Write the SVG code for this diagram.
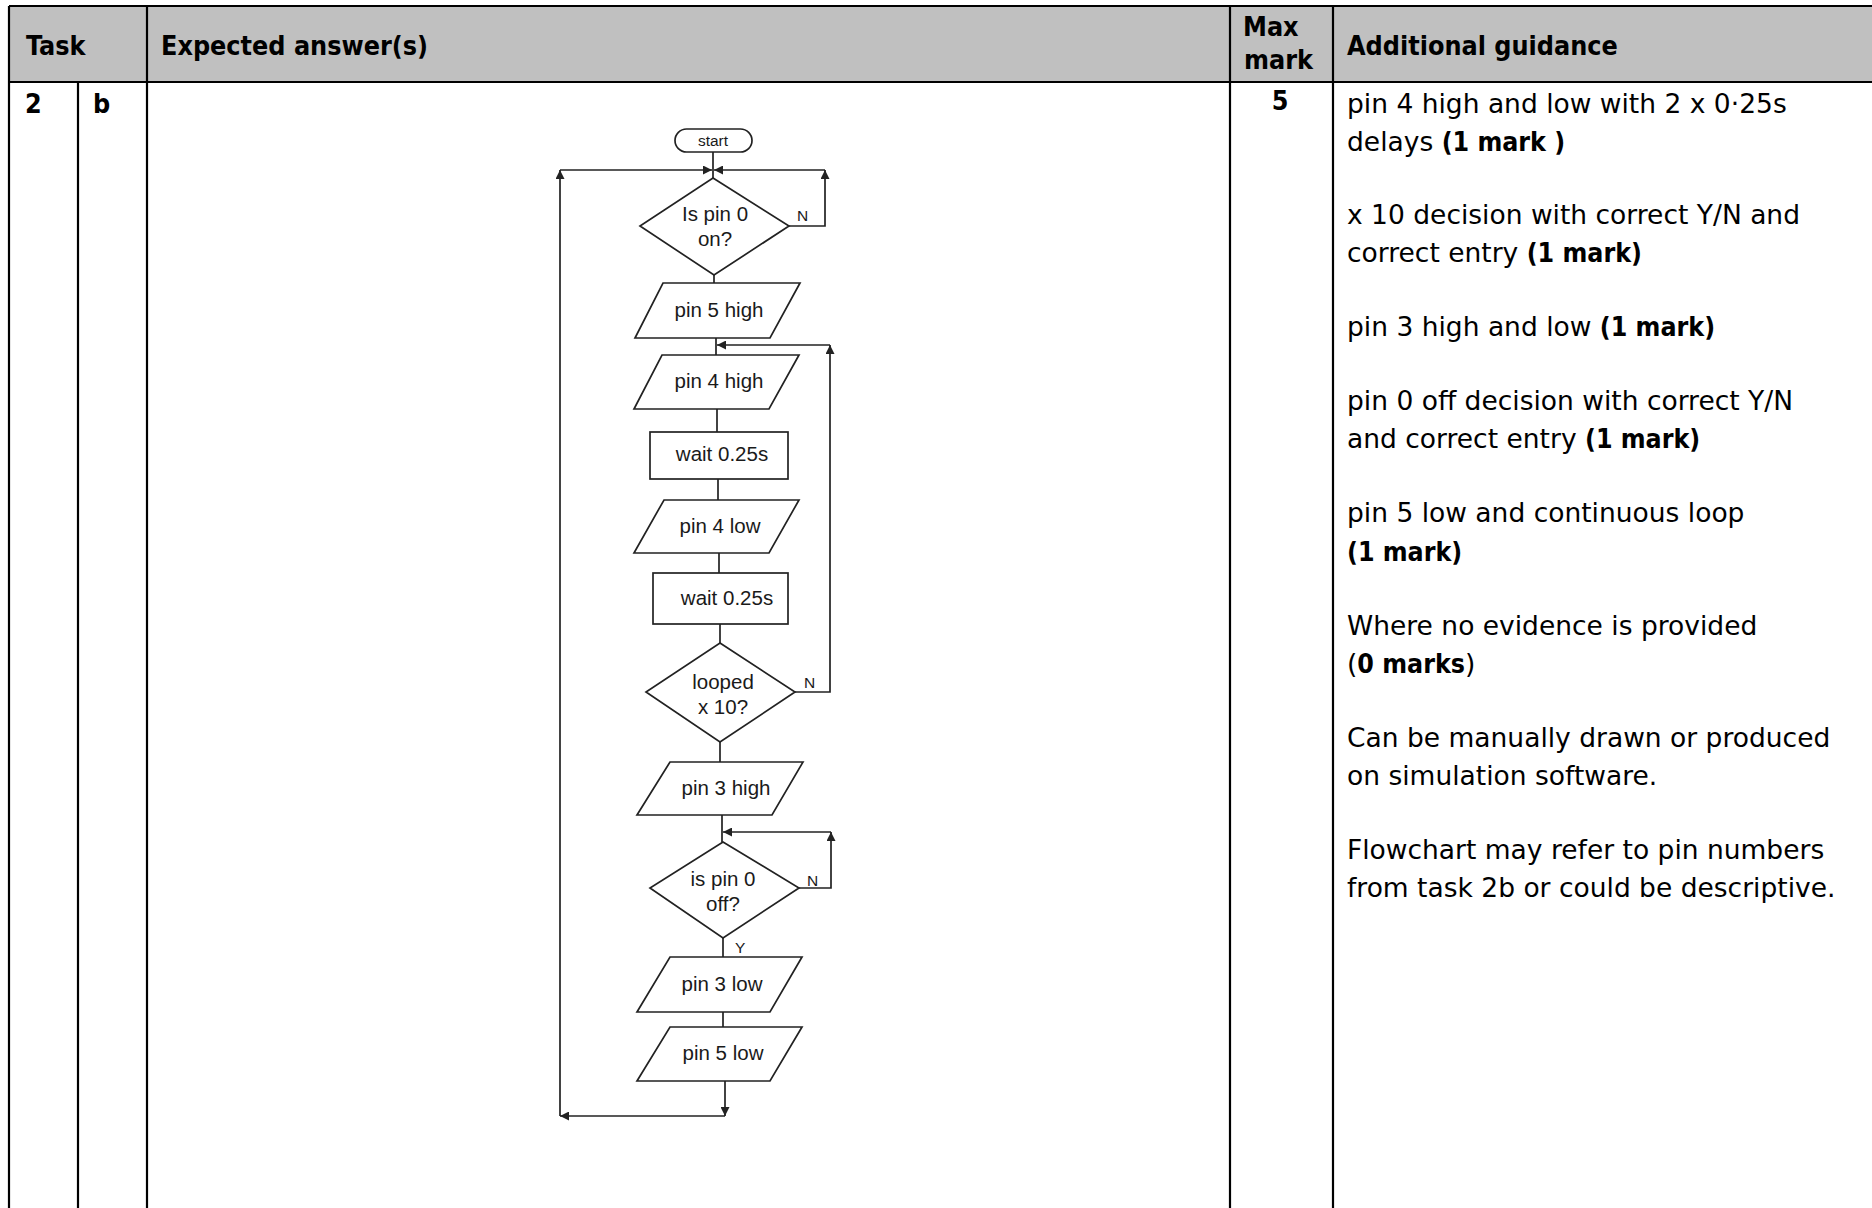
<svg xmlns="http://www.w3.org/2000/svg" width="1872" height="1208" viewBox="0 0 1872 1208">
  <defs>
    <marker id="arrow" viewBox="0 0 10 10" refX="10" refY="5" markerWidth="11" markerHeight="9" markerUnits="userSpaceOnUse" orient="auto">
      <path d="M0,0 L10,5 L0,10 z" fill="#222"/>
    </marker>
  </defs>
  <style>
    .grid { stroke: #000; stroke-width: 2.2; fill: none; }
    .head { fill: #c0c0c0; }
    .th { font-family: "DejaVu Sans Condensed", "DejaVu Sans", sans-serif; font-weight: bold; font-size: 26.7px; fill: #000; }
    .td { font-family: "DejaVu Sans", sans-serif; font-size: 26.5px; fill: #000; }
    .b { font-family: "DejaVu Sans Condensed", "DejaVu Sans", sans-serif; font-weight: bold; }
    .shape { fill: #fff; stroke: #222; stroke-width: 1.7; }
    .wire { fill: none; stroke: #222; stroke-width: 1.7; }
    .lbl { font-family: "Liberation Sans", Arial, sans-serif; font-size: 20.5px; fill: #1a1a1a; text-anchor: middle; }
    .small { font-family: "Liberation Sans", Arial, sans-serif; font-size: 15.5px; fill: #1a1a1a; }
  </style>

  <!-- table frame -->
  <g id="table">
    <rect class="head" x="9" y="6" width="1863" height="76"/>
    <line class="grid" x1="9" y1="6" x2="1872" y2="6"/>
    <line class="grid" x1="9" y1="82" x2="1872" y2="82"/>
    <line class="grid" x1="9" y1="6" x2="9" y2="1208"/>
    <line class="grid" x1="78" y1="82" x2="78" y2="1208"/>
    <line class="grid" x1="147" y1="6" x2="147" y2="1208"/>
    <line class="grid" x1="1230" y1="6" x2="1230" y2="1208"/>
    <line class="grid" x1="1333" y1="6" x2="1333" y2="1208"/>
  </g>

  <g id="header">
    <text class="th" x="26" y="55">Task</text>
    <text class="th" x="161" y="55">Expected answer(s)</text>
    <text class="th" x="1243" y="36">Max</text>
    <text class="th" x="1244" y="69">mark</text>
    <text class="th" x="1347" y="55">Additional guidance</text>
  </g>

  <g id="row">
    <text class="th" x="25" y="113">2</text>
    <text class="th" x="93" y="113">b</text>
    <text class="th" x="1280" y="110" text-anchor="middle">5</text>
  </g>

  <g id="guidance" class="td">
    <text x="1347" y="113">pin 4 high and low with 2 x 0·25s</text>
    <text x="1347" y="151">delays <tspan class="b">(1 mark )</tspan></text>
    <text x="1347" y="224">x 10 decision with correct Y/N and</text>
    <text x="1347" y="262">correct entry <tspan class="b">(1 mark)</tspan></text>
    <text x="1347" y="336">pin 3 high and low <tspan class="b">(1 mark)</tspan></text>
    <text x="1347" y="410">pin 0 off decision with correct Y/N</text>
    <text x="1347" y="448">and correct entry <tspan class="b">(1 mark)</tspan></text>
    <text x="1347" y="522">pin 5 low and continuous loop</text>
    <text x="1347" y="561"><tspan class="b">(1 mark)</tspan></text>
    <text x="1347" y="635">Where no evidence is provided</text>
    <text x="1347" y="673">(<tspan class="b">0 marks</tspan>)</text>
    <text x="1347" y="747">Can be manually drawn or produced</text>
    <text x="1347" y="785">on simulation software.</text>
    <text x="1347" y="859">Flowchart may refer to pin numbers</text>
    <text x="1347" y="897">from task 2b or could be descriptive.</text>
  </g>

  <!-- flowchart connectors -->
  <g id="connectors">
    <path class="wire" d="M713,152 V178"/>
    <path class="wire" d="M714,275 V283"/>
    <path class="wire" d="M716,338 V355"/>
    <path class="wire" d="M717,409 V432"/>
    <path class="wire" d="M718,479 V500"/>
    <path class="wire" d="M719,553 V573"/>
    <path class="wire" d="M720,624 V643"/>
    <path class="wire" d="M720,742 V762"/>
    <path class="wire" d="M722,815 V842"/>
    <path class="wire" d="M723,938 V957"/>
    <path class="wire" d="M723,1012 V1027"/>
    <!-- main loop back to the first test -->
    <path class="wire" d="M725,1081 V1116" marker-end="url(#arrow)"/>
    <path class="wire" d="M725,1116 H560" marker-end="url(#arrow)"/>
    <path class="wire" d="M560,1116 V170" marker-end="url(#arrow)"/>
    <path class="wire" d="M560,170 H712" marker-end="url(#arrow)"/>
    <!-- wait for pin 0 on -->
    <path class="wire" d="M789,226 H825 V170" marker-end="url(#arrow)"/>
    <path class="wire" d="M825,170 H714" marker-end="url(#arrow)"/>
    <!-- repeat ten times -->
    <path class="wire" d="M795,692 H830 V345" marker-end="url(#arrow)"/>
    <path class="wire" d="M830,345 H717" marker-end="url(#arrow)"/>
    <!-- wait for pin 0 off -->
    <path class="wire" d="M799,888 H831 V832" marker-end="url(#arrow)"/>
    <path class="wire" d="M831,832 H723" marker-end="url(#arrow)"/>
  </g>

  <g id="start">
    <rect class="shape" x="675" y="129" width="77" height="23" rx="11.5"/>
    <text class="lbl" x="713" y="146" style="font-size:15.5px">start</text>
  </g>
  <g id="pin0-on">
    <polygon class="shape" points="713,178 789,226 714,275 640,226"/>
    <text class="lbl" x="715" y="221">Is pin 0</text>
    <text class="lbl" x="715" y="246">on?</text>
    <text class="small" x="797" y="221">N</text>
  </g>
  <g id="pin5-high">
    <polygon class="shape" points="663,283 800,283 770,338 635,338"/>
    <text class="lbl" x="719" y="317">pin 5 high</text>
  </g>
  <g id="pin4-high">
    <polygon class="shape" points="662,355 799,355 769,409 634,409"/>
    <text class="lbl" x="719" y="388">pin 4 high</text>
  </g>
  <g id="wait1">
    <rect class="shape" x="650" y="432" width="138" height="47"/>
    <text class="lbl" x="722" y="461">wait 0.25s</text>
  </g>
  <g id="pin4-low">
    <polygon class="shape" points="664,500 799,500 769,553 634,553"/>
    <text class="lbl" x="720" y="533">pin 4 low</text>
  </g>
  <g id="wait2">
    <rect class="shape" x="653" y="573" width="135" height="51"/>
    <text class="lbl" x="727" y="605">wait 0.25s</text>
  </g>
  <g id="looped">
    <polygon class="shape" points="720,643 795,692 720,742 646,692"/>
    <text class="lbl" x="723" y="689">looped</text>
    <text class="lbl" x="723" y="714">x 10?</text>
    <text class="small" x="804" y="688">N</text>
  </g>
  <g id="pin3-high">
    <polygon class="shape" points="670,762 803,762 772,815 637,815"/>
    <text class="lbl" x="726" y="795">pin 3 high</text>
  </g>
  <g id="pin0-off">
    <polygon class="shape" points="723,842 799,888 723,938 650,888"/>
    <text class="lbl" x="723" y="886">is pin 0</text>
    <text class="lbl" x="723" y="911">off?</text>
    <text class="small" x="807" y="886">N</text>
    <text class="small" x="735" y="953">Y</text>
  </g>
  <g id="pin3-low">
    <polygon class="shape" points="670,957 802,957 770,1012 637,1012"/>
    <text class="lbl" x="722" y="991">pin 3 low</text>
  </g>
  <g id="pin5-low">
    <polygon class="shape" points="670,1027 802,1027 770,1081 637,1081"/>
    <text class="lbl" x="723" y="1060">pin 5 low</text>
  </g>
</svg>
